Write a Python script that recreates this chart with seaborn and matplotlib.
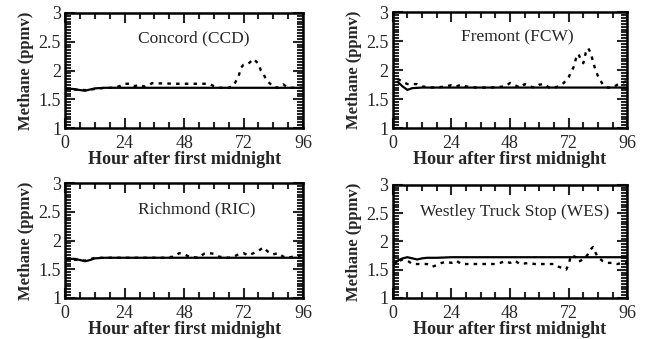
import numpy as np
import pandas as pd
import matplotlib
matplotlib.use("Agg")
import matplotlib.pyplot as plt
import seaborn as sns
from matplotlib.ticker import MultipleLocator

# ---- data ----
stations = ["Concord (CCD)", "Fremont (FCW)", "Richmond (RIC)", "Westley Truck Stop (WES)"]

ccd_model_h = [0, 3, 6, 8, 10, 12, 16, 24, 48, 72, 96]
ccd_model_v = [1.68, 1.68, 1.66, 1.65, 1.67, 1.69, 1.70, 1.70, 1.70, 1.70, 1.70]
ccd_obs_h = [0, 8, 16, 20, 22, 24, 26, 28, 30, 32, 34, 35, 36, 45, 46, 50, 54, 58, 60, 62, 64, 66, 68, 70, 71, 72, 74, 76, 78, 79, 80, 81, 82, 84, 86, 88, 90, 92, 96]
ccd_obs_v = [1.68, 1.66, 1.70, 1.70, 1.73, 1.77, 1.77, 1.73, 1.75, 1.72, 1.75, 1.78, np.nan, 1.77, 1.77, 1.77, 1.77, 1.77, 1.73, 1.70, 1.70, 1.70, 1.74, 1.90, 2.05, 2.10, 2.12, 2.20, 2.12, 2.00, 1.95, 1.85, 1.80, 1.72, 1.70, 1.76, 1.70, 1.70, 1.70]

fcw_model_h = [2, 4, 6, 8, 12, 24, 48, 72, 96]
fcw_model_v = [1.80, 1.72, 1.66, 1.69, 1.70, 1.70, 1.70, 1.70, 1.70]
fcw_obs_h = [2, 4, 6, 8, 10, 12, 16, 20, 24, 26, 28, 30, 34, 40, 46, 48, 50, 52, 54, 56, 58, 60, 62, 64, 66, 68, 70, 72, 74, 75, 76, 77, 78, 79, 80, 81, 82, 83, 84, 86, 88, 90, 92, 94, 96]
fcw_obs_v = [1.85, 1.80, 1.76, 1.76, 1.76, 1.72, 1.70, 1.71, 1.74, 1.72, 1.75, 1.72, 1.70, 1.70, 1.72, 1.78, 1.74, 1.70, 1.76, 1.72, 1.70, 1.75, 1.76, 1.70, 1.70, 1.72, 1.78, 1.88, 2.05, 2.20, 2.28, 2.18, 2.12, 2.30, 2.38, 2.30, 2.15, 2.00, 1.90, 1.75, 1.70, 1.70, 1.75, 1.78, 1.82]

ric_model_h = [0, 4, 6, 8, 10, 12, 16, 24, 48, 72, 96]
ric_model_v = [1.68, 1.68, 1.66, 1.64, 1.66, 1.69, 1.70, 1.70, 1.70, 1.70, 1.70]
ric_obs_h = [0, 8, 12, 20, 30, 40, 44, 46, 48, 50, 52, 54, 56, 58, 60, 62, 66, 68, 70, 72, 74, 76, 78, 80, 82, 84, 86, 88, 90, 92, 94, 96]
ric_obs_v = [1.68, 1.65, 1.70, 1.70, 1.70, 1.70, 1.72, 1.78, 1.76, 1.72, np.nan, 1.70, 1.77, 1.78, 1.77, 1.72, 1.70, 1.72, 1.76, 1.78, 1.74, 1.78, 1.82, 1.88, 1.80, 1.76, 1.78, 1.72, 1.70, 1.72, 1.72, 1.76]

wes_model_h = [0, 2, 4, 6, 8, 10, 12, 14, 18, 24, 48, 72, 96]
wes_model_v = [1.57, 1.66, 1.70, 1.72, 1.70, 1.68, 1.70, 1.71, 1.71, 1.72, 1.72, 1.72, 1.72]
wes_obs_h = [0, 2, 4, 6, 8, 10, 12, 14, 16, 18, 20, 22, 24, 26, 28, 30, 32, 34, 38, 42, 44, 46, 48, 50, 52, 54, 56, 58, 62, 66, 68, 70, 71, 72, 73, 74, 75, 76, 77, 78, 79, 80, 81, 82, 83, 84, 86, 88, 90, 92, 94, 96]
wes_obs_v = [1.57, 1.64, 1.68, 1.66, 1.60, 1.60, 1.60, 1.60, 1.55, 1.58, 1.62, 1.64, 1.62, 1.66, 1.60, np.nan, np.nan, 1.60, 1.60, 1.60, 1.62, 1.65, 1.62, 1.66, 1.60, np.nan, 1.62, 1.60, 1.60, 1.60, 1.55, 1.52, 1.50, 1.60, 1.75, 1.74, 1.72, 1.64, 1.66, 1.70, 1.72, 1.78, 1.86, 1.90, 1.80, 1.72, 1.65, 1.62, 1.62, 1.60, 1.62, 1.62]

model_h = [ccd_model_h, fcw_model_h, ric_model_h, wes_model_h]
model_v = [ccd_model_v, fcw_model_v, ric_model_v, wes_model_v]
obs_h = [ccd_obs_h, fcw_obs_h, ric_obs_h, wes_obs_h]
obs_v = [ccd_obs_v, fcw_obs_v, ric_obs_v, wes_obs_v]

x_ticks = [0, 24, 48, 72, 96]
y_ticks = [1, 1.5, 2, 2.5, 3]
y_tick_labels = ["1", "1.5", "2", "2.5", "3"]

# ---- style ----
sns.set_style("ticks")
plt.rcParams["font.family"] = ["Liberation Serif", "DejaVu Serif"]

fig = plt.figure(figsize=(6.46, 3.39), dpi=100)
positions = [
    [0.101, 0.622, 0.368, 0.340],
    [0.608, 0.622, 0.363, 0.342],
    [0.101, 0.121, 0.368, 0.339],
    [0.608, 0.121, 0.363, 0.334],
]
label_pos = [(52, 2.55), (51, 2.57), (53, 2.55), (50, 2.52)]

for i in range(4):
    ax = fig.add_axes(positions[i])
    dm = pd.DataFrame({"hour": model_h[i], "ppmv": model_v[i]})
    do = pd.DataFrame({"hour": obs_h[i], "ppmv": obs_v[i]})
    sns.lineplot(data=dm, x="hour", y="ppmv", ax=ax, color="black", lw=1.6)
    sns.lineplot(data=do, x="hour", y="ppmv", ax=ax, color="black", lw=1.7,
                 linestyle=(0, (1.5, 2.2)))
    ax.set_xlim(0, 96)
    ax.set_ylim(1, 3)
    ax.set_xticks(x_ticks)
    ax.set_xticklabels([str(t) for t in x_ticks])
    ax.set_yticks(y_ticks)
    ax.set_yticklabels(y_tick_labels)
    ax.xaxis.set_minor_locator(MultipleLocator(6))
    ax.yaxis.set_minor_locator(MultipleLocator(0.05))
    ax.tick_params(which="both", direction="in", top=True, right=True, width=1.5,
                   labelsize=13)
    ax.tick_params(axis="x", pad=5)
    ax.tick_params(axis="y", pad=3)
    ax.tick_params(which="major", length=7)
    ax.tick_params(which="minor", length=4)
    for s in ax.spines.values():
        s.set_linewidth(1.8)
        s.set_color("black")
    ax.set_xlabel("Hour after first midnight", fontsize=13, fontweight="bold", labelpad=-1)
    ax.set_ylabel("Methane (ppmv)", fontsize=12, fontweight="bold", labelpad=3)
    ax.text(label_pos[i][0], label_pos[i][1], stations[i], ha="center", va="center",
            fontsize=12.5)

fig.savefig("out.png", dpi=100)
